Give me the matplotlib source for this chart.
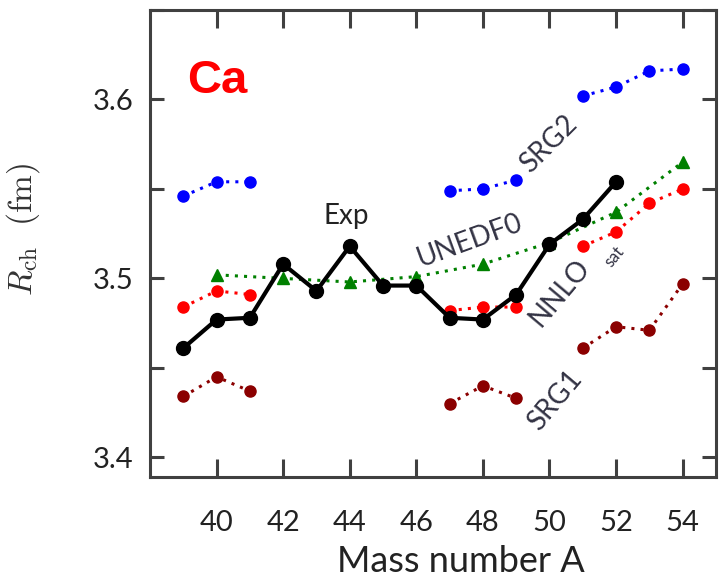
import numpy as np
import matplotlib
matplotlib.use('Agg')
import matplotlib.pyplot as plt
from matplotlib.ticker import MultipleLocator

plt.rcParams['mathtext.fontset'] = 'cm'

nan = np.nan

# mass numbers and charge radii (fm)
A_exp = [39, 40, 41, 42, 43, 44, 45, 46, 47, 48, 49, 50, 51, 52]
R_exp = [3.461, 3.477, 3.478, 3.508, 3.493, 3.518, 3.496, 3.496, 3.478, 3.477, 3.491, 3.519, 3.533, 3.554]

A_srg2 = [39, 40, 41, 42, 47, 48, 49, 50, 51, 52, 53, 54]
R_srg2 = [3.546, 3.554, 3.554, nan, 3.549, 3.550, 3.555, nan, 3.602, 3.607, 3.616, 3.617]

A_unedf = [40, 42, 44, 46, 48, 50, 52, 54]
R_unedf = [3.502, 3.500, 3.498, 3.501, 3.508, 3.520, 3.537, 3.565]

A_nnlo = [39, 40, 41, 42, 47, 48, 49, 50, 51, 52, 53, 54]
R_nnlo = [3.484, 3.493, 3.491, nan, 3.482, 3.484, 3.484, nan, 3.518, 3.526, 3.542, 3.550]

A_srg1 = [39, 40, 41, 42, 47, 48, 49, 50, 51, 52, 53, 54]
R_srg1 = [3.434, 3.445, 3.437, nan, 3.430, 3.440, 3.433, nan, 3.461, 3.473, 3.471, 3.497]

fig = plt.figure(figsize=(7.2, 5.83), dpi=100)
ax = fig.add_axes([0.2083, 0.1818, 0.7861, 0.8010])

dot = (0, (1, 2))
ax.plot(A_srg2, R_srg2, color='blue', ls=dot, lw=2.2, marker='o', ms=8)
ax.plot(A_unedf, R_unedf, color='green', ls=dot, lw=2.2, marker='^', ms=8)
ax.plot(A_nnlo, R_nnlo, color='red', ls=dot, lw=2.2, marker='o', ms=8)
ax.plot(A_srg1, R_srg1, color='#8b0000', ls=dot, lw=2.2, marker='o', ms=8)
ax.plot(A_exp, R_exp, color='black', lw=3, marker='o', ms=10)

ax.set_xlim(38, 55)
ax.set_ylim(3.389, 3.650)
ax.set_xticks(np.arange(40, 55, 2))
ax.set_yticks([3.4, 3.5, 3.6])
ax.set_yticklabels(['3.4', '3.5', '3.6'])
ax.yaxis.set_minor_locator(MultipleLocator(0.05))

for s in ax.spines.values():
    s.set_color('#404040')
    s.set_linewidth(2.2)

tfont = 'Lato'
ax.tick_params(axis='x', which='both', direction='in', top=True, length=13, width=2.2,
               color='#404040', pad=24, labelsize=21)
ax.tick_params(axis='y', which='both', direction='in', right=True, length=10, width=2.2,
               color='#404040', pad=12, labelsize=21)
for lab in ax.get_xticklabels() + ax.get_yticklabels():
    lab.set_fontfamily(tfont)
    lab.set_color('#222222')

ax.set_xlabel('Mass number A', fontsize=26, family=tfont, color='#222222')
ax.xaxis.set_label_coords(0.55, -0.145)

ax.set_ylabel(r'$R_{\rm ch}\ \ (\rm fm)$', fontsize=24, color='#333333')
ax.yaxis.set_label_coords(-0.19, 0.53)

ax.text(0.065, 0.848, 'Ca', transform=ax.transAxes, color='red', fontsize=34,
        fontweight='bold', family='Liberation Sans', va='center', ha='left')

tc = '#333344'
ax.text(43.9, 3.535, 'Exp', fontsize=20, family=tfont, color='#222222', ha='center', va='center')
ax.text(49.97, 3.575, 'SRG2', fontsize=20, family=tfont, color=tc, rotation=45,
        ha='center', va='center')
ax.text(47.6, 3.521, 'UNEDF0', fontsize=20, family=tfont, color=tc, rotation=20,
        ha='center', va='center')
ax.text(50.3, 3.492, 'NNLO', fontsize=20, family=tfont, color=tc, rotation=50,
        ha='center', va='center')
ax.text(51.95, 3.512, 'sat', fontsize=12, family=tfont, color=tc, rotation=50,
        ha='center', va='center')
ax.text(50.18, 3.432, 'SRG1', fontsize=20, family=tfont, color=tc, rotation=50,
        ha='center', va='center')

fig.savefig('out.png', dpi=100)
